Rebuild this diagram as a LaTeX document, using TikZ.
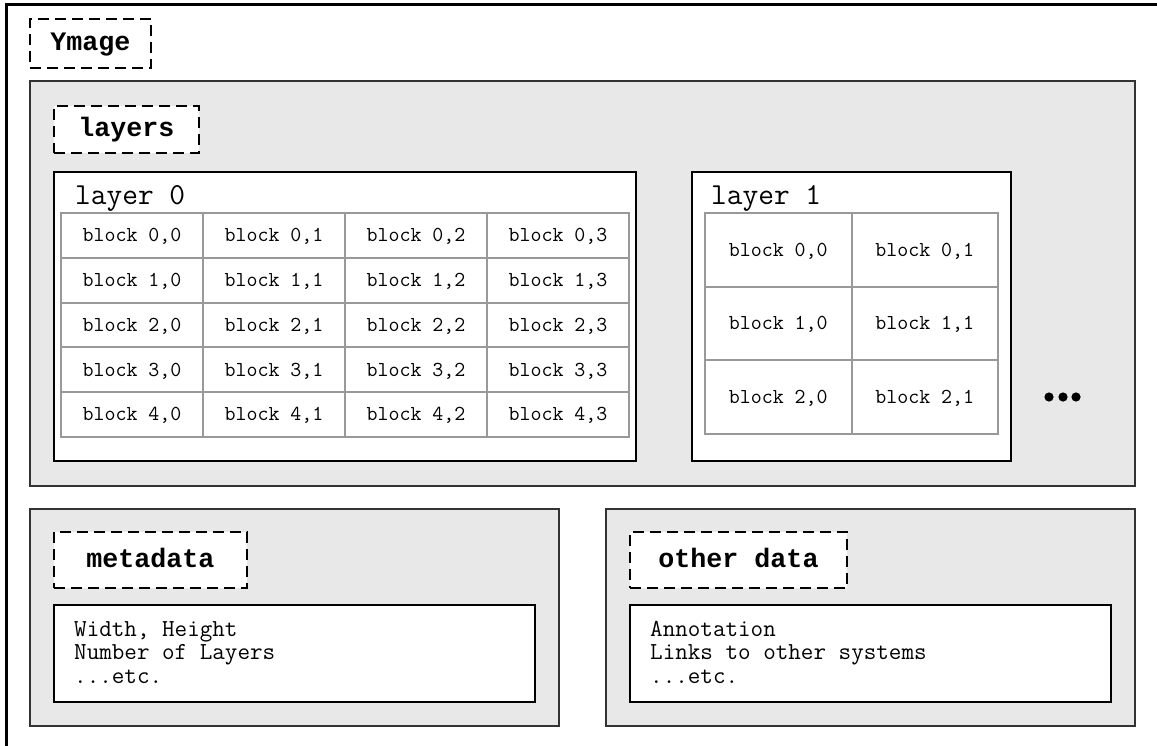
\documentclass[tikz,border=0pt]{standalone}
\usepackage{fontspec}
\newfontfamily\labelfont{Liberation Mono}
\begin{document}
\begin{tikzpicture}[x=1pt,y=-1pt,
  panel/.style={draw=black!80,fill=black!9,line width=1.6pt},
  whitebox/.style={draw=black,fill=white,line width=1.8pt},
  tag/.style={draw=black,fill=white,line width=1.8pt,dash pattern=on 11pt off 6pt,
    inner sep=0pt,text height=15pt,text depth=0pt,
    font=\labelfont\bfseries\fontsize{26.67}{30}\selectfont},
  cell/.style={draw=black!40,line width=2pt,inner sep=0pt,
    text height=12.5pt,text depth=0pt,
    font=\ttfamily\fontsize{21.33}{24}\selectfont},
  layername/.style={anchor=base west,inner sep=0pt,
    font=\ttfamily\fontsize{30.5}{34}\selectfont},
  infoline/.style={anchor=base west,inner sep=0pt,
    font=\ttfamily\fontsize{24.4}{27}\selectfont},
]
\useasboundingbox (0,0) rectangle (1157,746);

% outer frame (only its top and left sides fall inside the page)
\coordinate (frameTR) at (1170,5);
\coordinate (frameTL) at (6,5);
\coordinate (frameBL) at (6,760);
\draw[line width=3pt,line join=miter] (frameTR) -- (frameTL) -- (frameBL);

\node[tag,minimum width=121pt,minimum height=49pt] (ymage) at (90.5,43.5) {Ymage};

% layers panel
\draw[panel] (30,81) rectangle (1135,486);
\node[tag,minimum width=145pt,minimum height=47pt] (layers) at (126.5,129.5) {layers};

% layer 0
\draw[whitebox] (54,172) rectangle (636,461);
\node[layername] (l0name) at (75,204.5) {layer 0};
\foreach \r in {0,...,4}{
  \foreach \c in {0,...,3}{
    \node[cell,minimum width=142pt,minimum height=44.8pt]
      (a-\r-\c) at ({61+142*\c+71},{213+44.8*\r+22.4}) {block \r,\c};
  }
}

% layer 1
\draw[whitebox] (692,172) rectangle (1011,461);
\node[layername] (l1name) at (711,204.5) {layer 1};
\foreach \r in {0,...,2}{
  \foreach \c in {0,1}{
    \node[cell,minimum width=146.5pt,minimum height=73.67pt]
      (b-\r-\c) at ({705+146.5*\c+73.25},{213+73.67*\r+36.83}) {block \r,\c};
  }
}

% more layers follow
\foreach \x in {1049,1063,1076}
  \fill (\x,397) circle (4.6pt);

% metadata panel
\draw[panel] (30,509) rectangle (559,726);
\node[tag,minimum width=193pt,minimum height=56pt] (meta) at (150.5,560) {metadata};
\draw[whitebox] (54,605) rectangle (535,702);
\node[infoline] (m1) at (74,636) {Width, Height};
\node[infoline] (m2) at (74,659.5) {Number of Layers};
\node[infoline] (m3) at (74,683) {...etc.};

% other data panel
\draw[panel] (606,509) rectangle (1135,726);
\node[tag,minimum width=217pt,minimum height=56pt] (other) at (738.5,560) {other data};
\draw[whitebox] (630,605) rectangle (1111,702);
\node[infoline] (o1) at (650,636) {Annotation};
\node[infoline] (o2) at (650,659.5) {Links to other systems};
\node[infoline] (o3) at (650,683) {...etc.};
\end{tikzpicture}
\end{document}
